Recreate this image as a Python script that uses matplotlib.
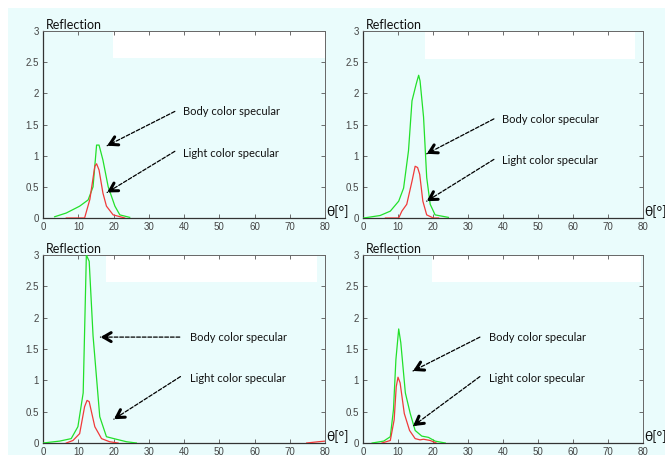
import matplotlib.pyplot as plt
from matplotlib.patches import Rectangle

# angle / reflection samples
g1_x = [3.3, 6.6, 10.4, 12.8, 14.2, 15.2, 15.9, 17.0, 18.5, 20.4, 21.8, 24.6]
g1_y = [0.02, 0.08, 0.19, 0.29, 0.5, 1.17, 1.17, 0.93, 0.5, 0.19, 0.05, 0.01]
r1_x = [6.6, 11.8, 13.3, 14.7, 15.2, 15.9, 17.0, 18.0, 19.9, 23.2]
r1_y = [0.0, 0.0, 0.3, 0.83, 0.87, 0.77, 0.4, 0.19, 0.05, 0.0]

g2_x = [0.2, 4.9, 7.8, 10.2, 11.6, 13.0, 14.0, 15.2, 15.9, 16.3, 17.3, 18.2, 19.2, 20.6, 24.4]
g2_y = [0.0, 0.04, 0.11, 0.27, 0.48, 1.08, 1.88, 2.15, 2.29, 2.2, 1.62, 0.65, 0.22, 0.05, 0.01]
r2_x = [6.4, 10.2, 11.1, 12.5, 14.0, 14.9, 15.6, 16.2, 17.1, 18.2, 20.1, 21.6]
r2_y = [0.0, 0.0, 0.11, 0.22, 0.59, 0.83, 0.81, 0.7, 0.27, 0.05, 0.0, 0.0]

g3_x = [0.0, 4.7, 8.0, 9.9, 11.4, 12.3, 13.1, 14.2, 16.1, 18.0, 20.8, 23.7, 26.5]
g3_y = [0.0, 0.03, 0.07, 0.26, 0.8, 3.0, 2.9, 1.71, 0.42, 0.1, 0.06, 0.02, 0.0]
r3_x = [6.6, 8.5, 10.4, 11.8, 12.5, 13.1, 14.7, 16.6, 18.9, 21.3]
r3_y = [0.0, 0.04, 0.15, 0.58, 0.68, 0.66, 0.26, 0.07, 0.02, 0.0]
r3b_x = [74.8, 78.1, 80.0]
r3b_y = [0.0, 0.02, 0.03]

g4_x = [2.6, 5.9, 7.8, 8.7, 9.4, 10.2, 10.8, 12.1, 13.5, 14.9, 16.8, 18.7, 20.6, 23.5]
g4_y = [0.0, 0.03, 0.1, 0.53, 1.33, 1.82, 1.6, 0.8, 0.47, 0.2, 0.11, 0.09, 0.03, 0.0]
r4_x = [5.4, 7.8, 8.9, 9.5, 10.0, 10.6, 11.8, 13.3, 14.9, 16.3, 17.3, 19.2, 20.9]
r4_y = [0.0, 0.04, 0.37, 0.9, 1.05, 0.96, 0.47, 0.2, 0.07, 0.05, 0.06, 0.04, 0.0]

xticks = [0, 10, 20, 30, 40, 50, 60, 70, 80]
yticks = [0, 0.5, 1, 1.5, 2, 2.5, 3]
ytick_labels = ['0', '0.5', '1', '1.5', '2', '2.5', '3']

W, H = 665, 455
BG = '#eafcfc'
GREEN = '#22e02a'
RED = '#f03a3a'
FONT = 'Lato'

fig = plt.figure(figsize=(W / 100, H / 100), dpi=100)
fig.patch.set_facecolor('white')
fig.patches.append(Rectangle((8 / W, 0), 1 - 8 / W, 1 - 8 / H, transform=fig.transFigure,
                             facecolor=BG, edgecolor='none', zorder=-10))

panels = [
    # (left, right, top, bottom) px, series, white box, arrows
    dict(box=(43, 325, 31, 218), green=(g1_x, g1_y), red=[(r1_x, r1_y)], white=(19.9, 80, 2.57),
         body=((39.6, 1.71), (37.4, 1.71), (18.2, 1.16)),
         light=((39.6, 1.04), (37.4, 1.07), (18.2, 0.41))),
    dict(box=(363, 643, 31, 218), green=(g2_x, g2_y), red=[(r2_x, r2_y)], white=(17.7, 77.8, 2.55),
         body=((39.8, 1.58), (37.4, 1.59), (18.2, 1.03)),
         light=((39.8, 0.92), (37.4, 0.94), (18.2, 0.27))),
    dict(box=(43, 325, 255, 443), green=(g3_x, g3_y), red=[(r3_x, r3_y), (r3b_x, r3b_y)],
         white=(17.9, 77.7, 2.57),
         body=((41.7, 1.69), (38.8, 1.69), (16.3, 1.69)),
         light=((41.7, 1.03), (39.0, 1.06), (20.1, 0.38))),
    dict(box=(363, 643, 255, 443), green=(g4_x, g4_y), red=[(r4_x, r4_y)], white=(19.7, 79.5, 2.57),
         body=((35.9, 1.69), (33.4, 1.69), (14.3, 1.15)),
         light=((35.9, 1.03), (33.4, 1.06), (14.3, 0.27))),
]


def arrow(ax, start, tip):
    ax.annotate('', xy=tip, xytext=start,
                arrowprops=dict(arrowstyle='-', linestyle=(0, (3, 1.5)), lw=0.9, color='black',
                                shrinkA=0, shrinkB=0))
    dx, dy = start[0] - tip[0], start[1] - tip[1]
    # short solid piece for the chevron head
    sx = tip[0] + dx * 0.08
    sy = tip[1] + dy * 0.08
    ax.annotate('', xy=tip, xytext=(sx, sy),
                arrowprops=dict(arrowstyle='->,head_length=0.55,head_width=0.32', lw=2.2,
                                color='black', shrinkA=0, shrinkB=0))


for p in panels:
    l, r, t, b = p['box']
    ax = fig.add_axes([l / W, 1 - b / H, (r - l) / W, (b - t) / H])
    ax.set_facecolor(BG)
    ax.set_xlim(0, 80)
    ax.set_ylim(0, 3)
    wx0, wx1, wy = p['white']
    ax.add_patch(Rectangle((wx0, wy), wx1 - wx0, 3 - wy - 0.01,
                           facecolor='white', edgecolor='none', zorder=0))
    ax.plot(*p['green'], color=GREEN, lw=0.9, zorder=3)
    for rx, ry in p['red']:
        ax.plot(rx, ry, color=RED, lw=0.9, zorder=4)

    ax.set_xticks(xticks)
    ax.set_yticks(yticks)
    ax.set_yticklabels(ytick_labels)
    ax.tick_params(direction='in', length=3, width=0.6, top=True, right=True,
                   labelsize=7, labelcolor='#444444', color='#555555', pad=3)
    for lab in ax.get_xticklabels() + ax.get_yticklabels():
        lab.set_family('Liberation Sans')
    for side in ['left', 'bottom']:
        ax.spines[side].set_color('#333333')
        ax.spines[side].set_linewidth(0.9)
    for side in ['top', 'right']:
        ax.spines[side].set_color('#666666')
        ax.spines[side].set_linewidth(0.7)

    ax.text(0.01, 1.0, 'Reflection', transform=ax.transAxes, ha='left', va='bottom',
            fontsize=9, family=FONT, color='#111111')
    ax.text(1.005, 0.0, 'θ[°]', transform=ax.transAxes, ha='left', va='bottom',
            fontsize=10, family=['Lato', 'DejaVu Sans'], color='#111111', clip_on=False)

    for key, label in (('body', 'Body color specular'), ('light', 'Light color specular')):
        pos, start, tip = p[key]
        ax.text(pos[0], pos[1], label, ha='left', va='center', fontsize=8, family=FONT,
                color='#111111', zorder=5)
        arrow(ax, start, tip)

fig.savefig('out.png', dpi=100, facecolor=fig.get_facecolor())
